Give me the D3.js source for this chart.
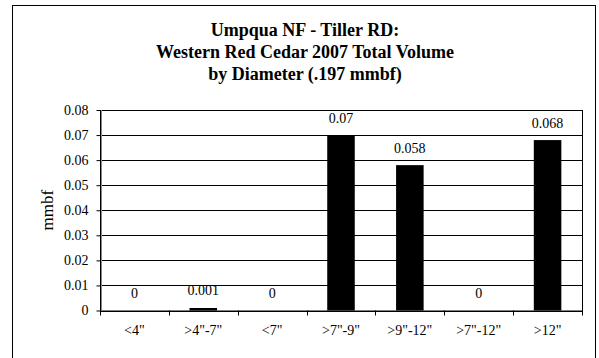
<!DOCTYPE html>
<html><head><meta charset="utf-8">
<script src="https://cdn.jsdelivr.net/npm/d3@7"></script>
<style>body{margin:0;background:#fff}svg{display:block}</style>
</head><body><div id="chart"></div>
<script>
const categories = ['<4"', '>4"-7"', '<7"', '>7"-9"', '>9"-12"', '>7"-12"', '>12"'];
const values = [0, 0.001, 0, 0.07, 0.058, 0, 0.068];
const valueLabels = ["0", "0.001", "0", "0.07", "0.058", "0", "0.068"];
const yTicks = [0, 0.01, 0.02, 0.03, 0.04, 0.05, 0.06, 0.07, 0.08];
const yTickLabels = ["0", "0.01", "0.02", "0.03", "0.04", "0.05", "0.06", "0.07", "0.08"];
const titleLines = ["Umpqua NF - Tiller RD:", "Western Red Cedar 2007 Total Volume", "by Diameter (.197 mmbf)"];
const yTitle = "mmbf";

const FONT = "Liberation Serif";
const W = 599, H = 358;
const svg = d3.select("#chart").append("svg").attr("width", W).attr("height", H);
svg.append("rect").attr("x", 12.5).attr("y", 5.5).attr("width", 583).attr("height", 360)
  .attr("fill", "#fff").attr("stroke", "#000").attr("stroke-width", 1);

const L = 100, R = 582, T = 110, B = 310.5;
const x = d3.scaleBand().domain(categories).range([L, R]).paddingInner(0.6).paddingOuter(0.3);
const xb = d3.scaleBand().domain(categories).range([L, R]);
const y = d3.scaleLinear().domain([0, 0.08]).range([B, T]);

// gridlines
svg.append("g").selectAll("line").data(yTicks.slice(1)).join("line")
  .attr("x1", L).attr("x2", R).attr("y1", d => Math.round(y(d)) + 0.5).attr("y2", d => Math.round(y(d)) + 0.5)
  .attr("stroke", "#000").attr("stroke-width", 1);
// plot border
svg.append("rect").attr("x", L + 0.5).attr("y", Math.round(T) + 0.5).attr("width", R - L).attr("height", B - T)
  .attr("fill", "none").attr("stroke", "#000").attr("stroke-width", 1);
svg.append("line").attr("x1", L + 1.5).attr("x2", L + 1.5).attr("y1", T).attr("y2", B)
  .attr("stroke", "#888").attr("stroke-width", 1);

// bars
svg.append("g").selectAll("rect").data(values).join("rect")
  .attr("x", (d, i) => x(categories[i])).attr("width", x.bandwidth())
  .attr("y", d => y(d)).attr("height", d => B - y(d)).attr("fill", "#000");

// y axis
const yAxis = d3.axisLeft(y).tickValues(yTicks).tickFormat((d, i) => yTickLabels[i]).tickSize(4).tickPadding(8);
const gy = svg.append("g").attr("transform", `translate(${L + 0.5},0)`).call(yAxis)
  .attr("font-family", FONT).attr("font-size", 14);
gy.select(".domain").remove();
gy.selectAll("text").attr("fill", "#000");
gy.selectAll("line").attr("stroke", "#000");

// x axis
svg.append("line").attr("x1", L).attr("x2", R + 1).attr("y1", Math.round(B) + 0.5).attr("y2", Math.round(B) + 0.5).attr("stroke", "#000");
const bounds = categories.map(c => xb(c)).concat([R]);
svg.append("g").selectAll("line").data(bounds).join("line")
  .attr("x1", d => Math.round(d) + 0.5).attr("x2", d => Math.round(d) + 0.5)
  .attr("y1", B).attr("y2", B + 5).attr("stroke", "#000");
svg.append("g").selectAll("text").data(categories).join("text")
  .attr("x", d => xb(d) + xb.bandwidth() / 2).attr("y", 335)
  .attr("text-anchor", "middle").attr("font-family", FONT).attr("font-size", 14).text(d => d);

// value labels
svg.append("g").selectAll("text").data(values).join("text")
  .attr("x", (d, i) => xb(categories[i]) + xb.bandwidth() / 2).attr("y", d => y(d) - 12.5)
  .attr("text-anchor", "middle").attr("font-family", FONT).attr("font-size", 14).text((d, i) => valueLabels[i]);

// titles
svg.append("g").selectAll("text").data(titleLines).join("text")
  .attr("x", 305).attr("y", (d, i) => 36 + i * 22)
  .attr("text-anchor", "middle").attr("font-family", FONT).attr("font-size", 18).attr("font-weight", "bold").text(d => d);

svg.append("text").attr("transform", `translate(53,${(T + B) / 2}) rotate(-90)`)
  .attr("text-anchor", "middle").attr("font-family", FONT).attr("font-size", 17).text(yTitle);
</script></body></html>
